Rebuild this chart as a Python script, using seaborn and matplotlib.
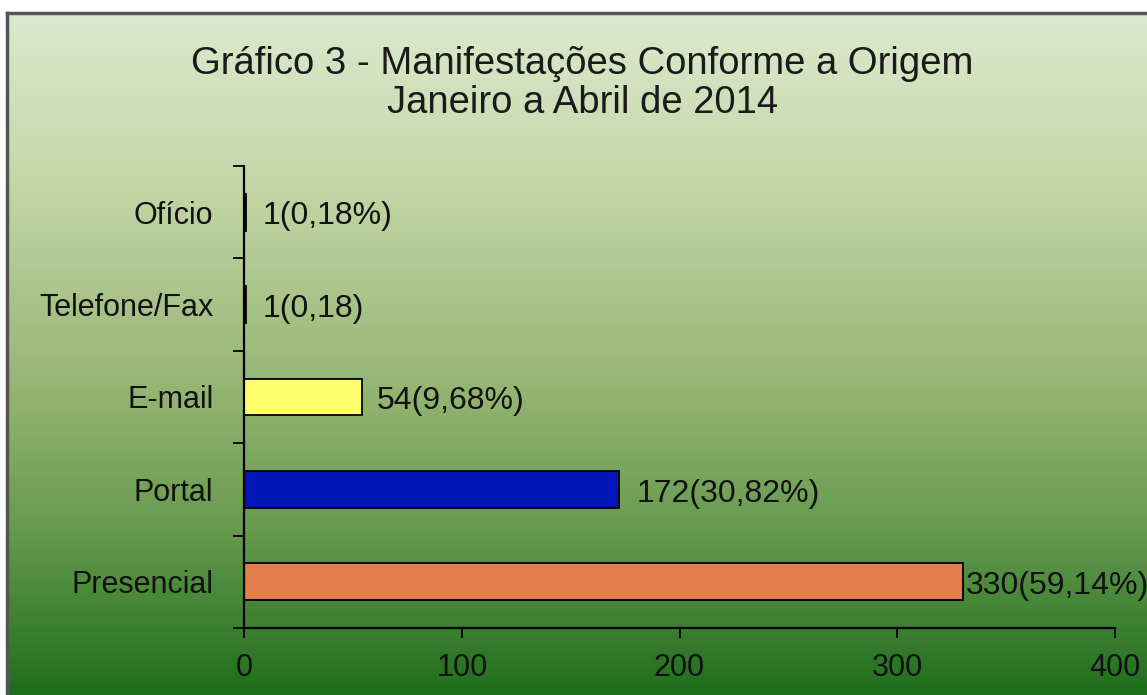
import numpy as np
import pandas as pd
import seaborn as sns
import matplotlib.pyplot as plt
from matplotlib.colors import LinearSegmentedColormap

# Data (top to bottom as drawn)
categorias = ["Ofício", "Telefone/Fax", "E-mail", "Portal", "Presencial"]
valores = [1, 1, 54, 172, 330]
rotulos = ["1(0,18%)", "1(0,18)", "54(9,68%)", "172(30,82%)", "330(59,14%)"]
cores = ["#1E3F8A", "#1E3F8A", "#FFFF6E", "#0016B8", "#E47E48"]
xticks = [0, 100, 200, 300, 400]

titulo = "Gráfico 3 - Manifestações Conforme a Origem\nJaneiro a Abril de 2014"

sns.set_theme(style="white")
plt.rcParams["font.family"] = ["Liberation Sans", "DejaVu Sans"]

fig = plt.figure(figsize=(11.47, 6.95), dpi=100)
fig.patch.set_facecolor("white")

# Background gradient panel with border
bg = fig.add_axes([7 / 1147, -0.02, 1.0, 1 - 13 / 695 + 0.02])
grad_cmap = LinearSegmentedColormap.from_list(
    "bg", [(0.0, "#DDE9CE"), (0.25, "#C3D6A6"), (0.55, "#93B471"),
           (0.75, "#64994C"), (1.0, "#186A18")])
bg.imshow(np.linspace(0, 1, 256).reshape(-1, 1), aspect="auto", cmap=grad_cmap,
          extent=[0, 1, 0, 1], origin="upper")
bg.set_xticks([])
bg.set_yticks([])
for side in ["right", "bottom"]:
    bg.spines[side].set_visible(False)
for side in ["left", "top"]:
    bg.spines[side].set_color("#555555")
    bg.spines[side].set_linewidth(2.5)
bg.set_zorder(0)

ax = fig.add_axes([244 / 1147, 1 - 628 / 695, (1115 - 244) / 1147, (628 - 166) / 695])
ax.patch.set_alpha(0)

df = pd.DataFrame({"categoria": categorias, "valor": valores})
sns.barplot(data=df, x="valor", y="categoria", hue="categoria", palette=cores,
            saturation=1, width=0.4, edgecolor="black", linewidth=1.3,
            legend=False, ax=ax)

ax.set_xlim(0, 400)
ax.set_ylim(len(categorias) - 0.5, -0.5)
ax.set_xticks(xticks)
ax.set_xticklabels([str(t) for t in xticks])
ax.set_yticks(np.arange(len(categorias) + 1) - 0.5, minor=True)
ax.tick_params(axis="y", which="major", length=0, pad=22, labelsize=22, labelcolor="#111111")
ax.tick_params(axis="y", which="minor", left=True, length=8, width=1.3, color="black")
ax.tick_params(axis="x", which="major", bottom=True, length=7, width=1.3, color="black",
               pad=11, labelsize=22, labelcolor="#111111")
ax.set_xlabel("")
ax.set_ylabel("")
for side in ["top", "right"]:
    ax.spines[side].set_visible(False)
for side in ["left", "bottom"]:
    ax.spines[side].set_color("black")
    ax.spines[side].set_linewidth(1.6)

# value labels
pads = [12, 12, 11, 13, 2]
for i, (v, txt) in enumerate(zip(valores, rotulos)):
    ax.annotate(txt, xy=(v, i), xytext=(pads[i], -3), textcoords="offset points",
                ha="left", va="center", fontsize=23, color="#111111",
                annotation_clip=False, clip_on=False)

fig.text(0.508, 0.880, titulo, ha="center", va="center", fontsize=27.5,
         color="#1a1a1a", linespacing=1.08)

fig.savefig("out.png", dpi=100)
